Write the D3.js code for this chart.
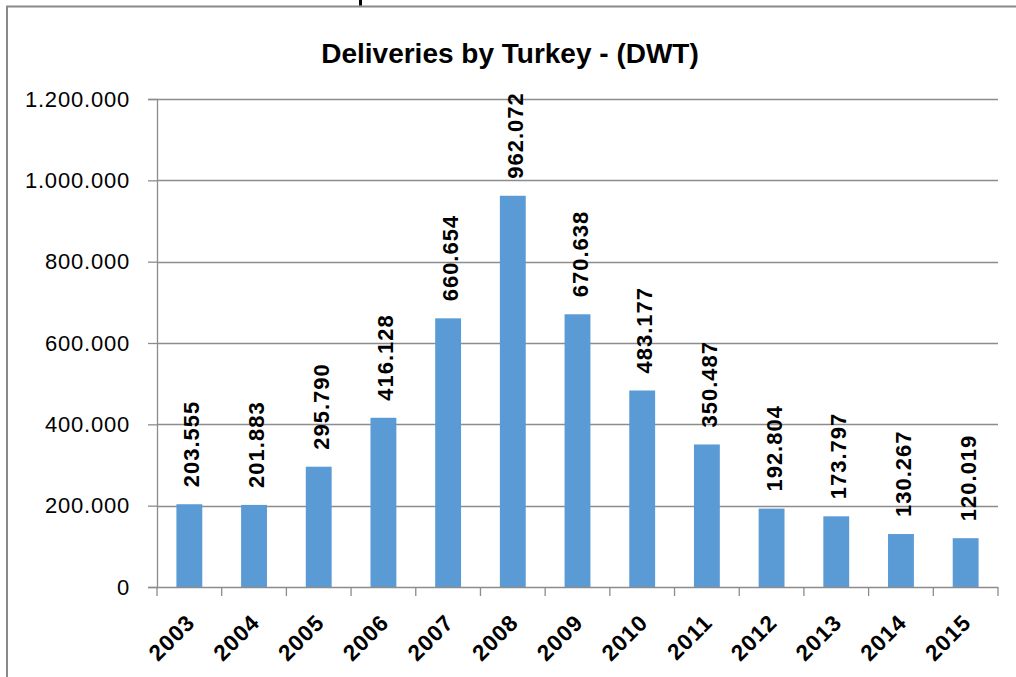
<!DOCTYPE html>
<html>
<head>
<meta charset="utf-8">
<script src="https://cdn.jsdelivr.net/npm/d3@7"></script>
<style>
  html, body { margin: 0; padding: 0; background: #fff; }
  svg { display: block; }
  text { font-family: "Liberation Sans", Arial, sans-serif; fill: #000; }
</style>
</head>
<body>
<svg id="chart" width="1016" height="677"></svg>
<script>
const title = "Deliveries by Turkey - (DWT)";
const years = ["2003","2004","2005","2006","2007","2008","2009","2010","2011","2012","2013","2014","2015"];
const deliveries = [203555, 201883, 295790, 416128, 660654, 962072, 670638, 483177, 350487, 192804, 173797, 130267, 120019];
const yTicks = [0, 200000, 400000, 600000, 800000, 1000000, 1200000];

const locale = d3.formatLocale({decimal: ",", thousands: ".", grouping: [3], currency: ["", ""]});
const fmt = locale.format(",d");

const svg = d3.select("#chart");
const W = 1016, H = 677;
const plot = {left: 157, right: 998, top: 99, bottom: 587};

// outer chart frame (only left and top visible)
svg.append("path")
  .attr("d", `M7,${H} L7,6.5 L${W},6.5`)
  .attr("fill", "none").attr("stroke", "#8a8a8a").attr("stroke-width", 2);

// tiny fragment of a glyph cut by the top edge
svg.append("rect").attr("x", 359).attr("y", 0).attr("width", 3).attr("height", 5.5).attr("fill", "#000");

const x = d3.scaleBand().domain(years).range([plot.left, plot.right]).paddingInner(0.6).paddingOuter(0.3);
const y = d3.scaleLinear().domain([0, 1200000]).range([plot.bottom, plot.top]);

// gridlines
svg.append("g").selectAll("line").data(yTicks.filter(d => d > 0)).join("line")
  .attr("x1", plot.left).attr("x2", plot.right)
  .attr("y1", d => Math.round(y(d)) + 0.5).attr("y2", d => Math.round(y(d)) + 0.5)
  .attr("stroke", "#8c8c8c").attr("stroke-width", 1.3);

// y axis
const yAxis = svg.append("g").attr("transform", `translate(${plot.left},0)`)
  .call(d3.axisLeft(y).tickValues(yTicks).tickFormat(fmt).tickSize(9).tickPadding(18));
yAxis.select(".domain").attr("stroke", "#8c8c8c").attr("stroke-width", 1.3);
yAxis.selectAll(".tick line").attr("stroke", "#8c8c8c").attr("stroke-width", 1.3);
yAxis.selectAll("text").attr("font-size", 22).attr("letter-spacing", 0.8)
  .attr("font-family", "Liberation Sans, Arial, sans-serif").attr("fill", "#000");

// bars
svg.append("g").selectAll("rect").data(deliveries).join("rect")
  .attr("x", (d, i) => x(years[i]))
  .attr("width", x.bandwidth())
  .attr("y", d => y(d))
  .attr("height", d => y(0) - y(d))
  .attr("fill", "#5b9bd5");

// x axis
const boundaries = d3.range(years.length + 1).map(i => plot.left + i * x.step());
const xg = svg.append("g");
xg.append("line").attr("x1", plot.left).attr("x2", plot.right)
  .attr("y1", plot.bottom + 0.5).attr("y2", plot.bottom + 0.5)
  .attr("stroke", "#8c8c8c").attr("stroke-width", 1.3);
xg.selectAll("line.tk").data(boundaries).join("line").attr("class", "tk")
  .attr("x1", d => d).attr("x2", d => d)
  .attr("y1", plot.bottom).attr("y2", plot.bottom + 9)
  .attr("stroke", "#8c8c8c").attr("stroke-width", 1.3);
xg.selectAll("text").data(years).join("text")
  .attr("transform", d => `translate(${x(d) + x.bandwidth() / 2 + 7},624) rotate(-45)`)
  .attr("text-anchor", "end")
  .attr("font-size", 22.5).attr("font-weight", "bold").attr("letter-spacing", 1)
  .text(d => d);

// data labels
svg.append("g").selectAll("text").data(deliveries).join("text")
  .attr("transform", (d, i) => `translate(${x(years[i]) + x.bandwidth() / 2 + 10},${y(d) - 17}) rotate(-90)`)
  .attr("text-anchor", "start")
  .attr("font-size", 22).attr("font-weight", "bold").attr("letter-spacing", 1)
  .text(d => fmt(d));

// title
svg.append("text").attr("x", 510).attr("y", 63).attr("text-anchor", "middle")
  .attr("font-size", 28).attr("font-weight", "bold").text(title);
</script>
</body>
</html>
